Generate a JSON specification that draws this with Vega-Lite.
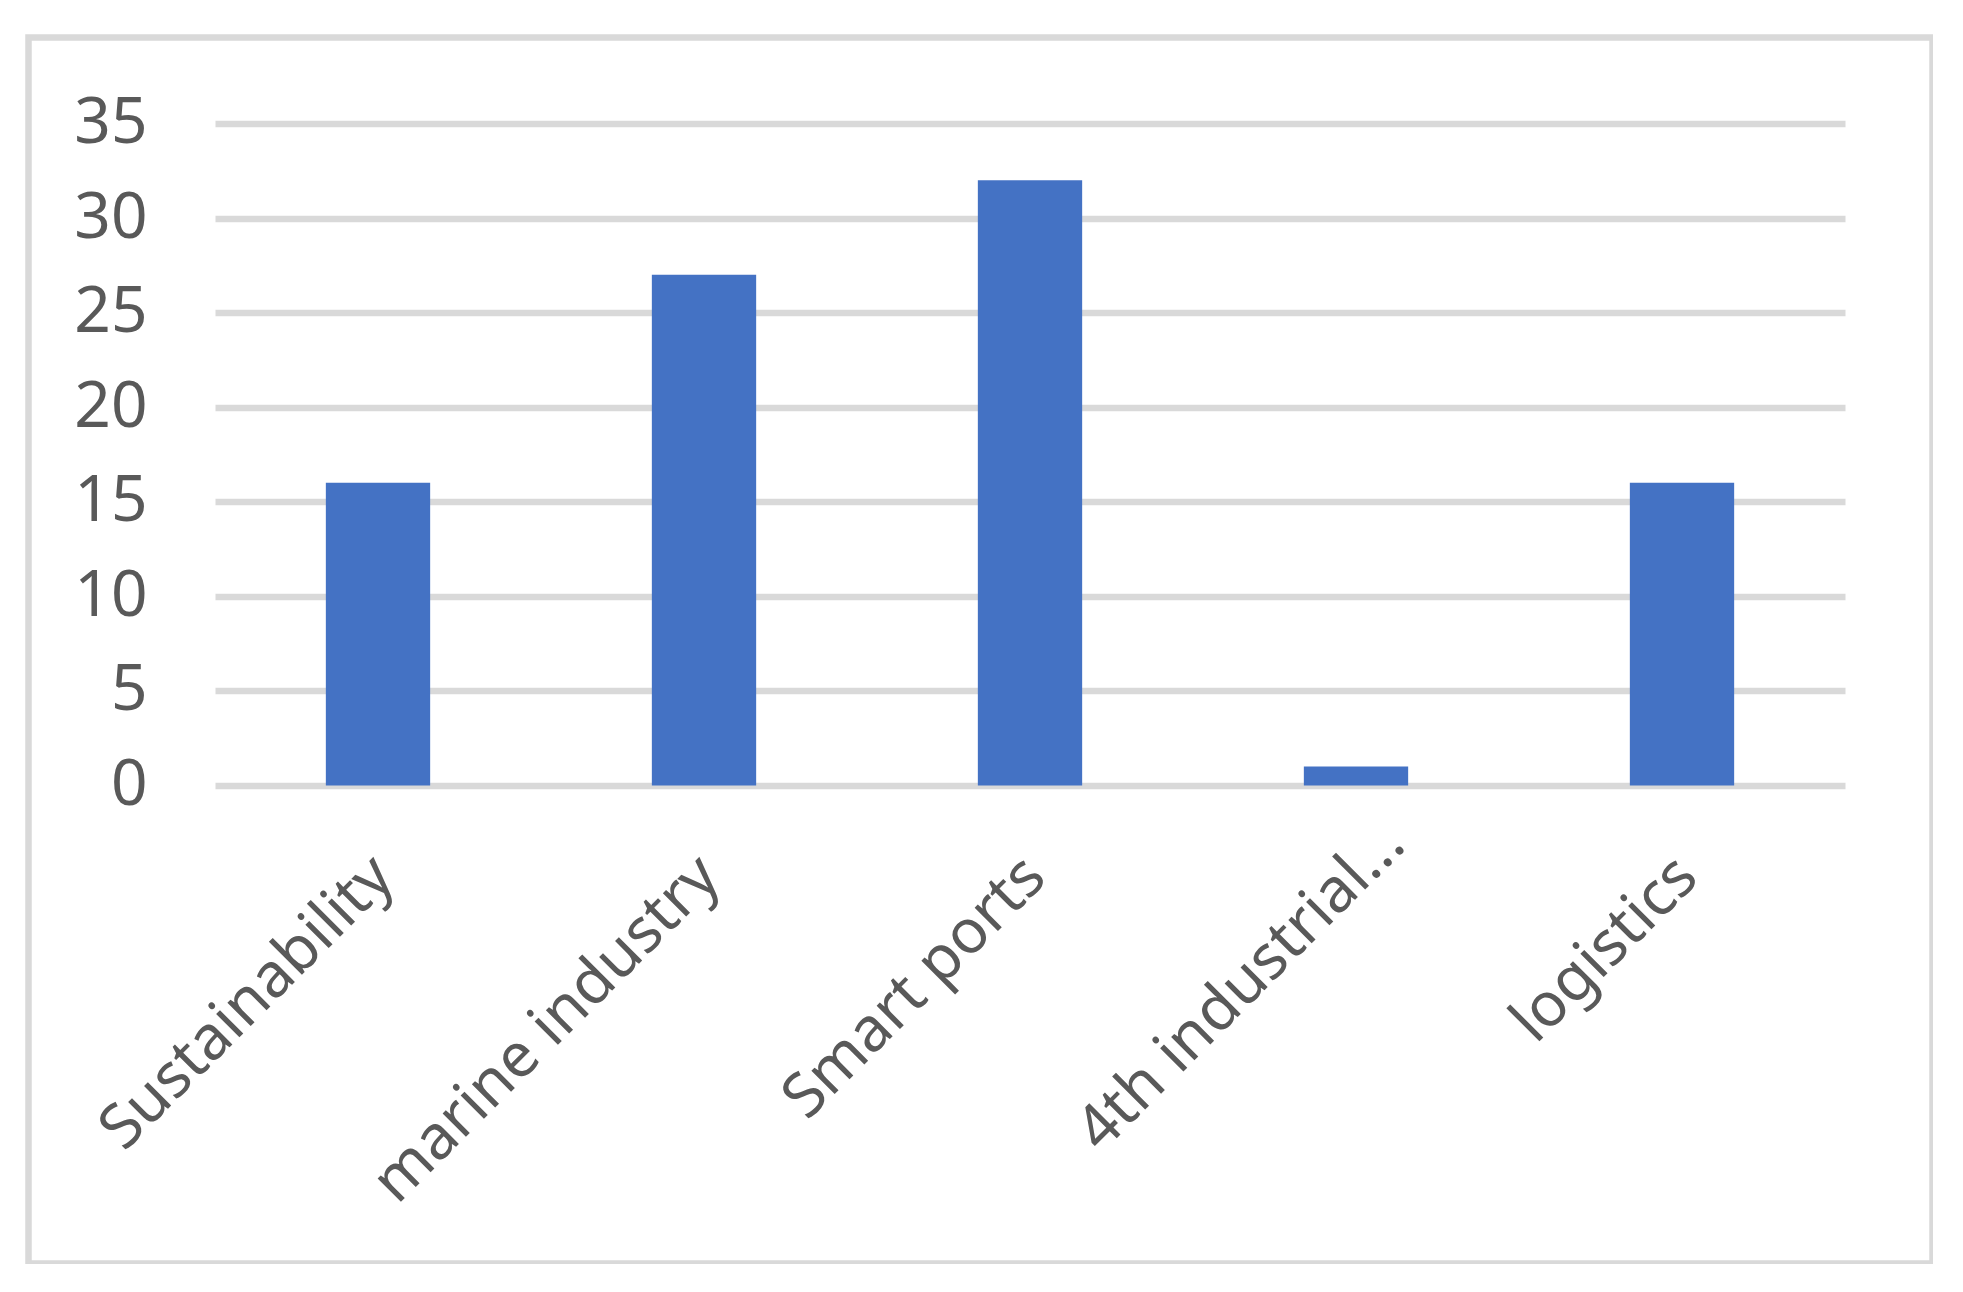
{
  "$schema": "https://vega.github.io/schema/vega-lite/v6.json",
  "width": 1904,
  "height": 1226,
  "autosize": {"type": "none"},
  "padding": {"left": 28.5, "top": 37.5, "right": 0, "bottom": 0},
  "background": "white",
  "data": {
    "values": [
      {"topic": "Sustainability", "count": 16},
      {"topic": "marine industry", "count": 27},
      {"topic": "Smart ports", "count": 32},
      {"topic": "4th industrial...", "count": 1},
      {"topic": "logistics", "count": 16}
    ]
  },
  "mark": {"type": "bar", "color": "#4472c4"},
  "encoding": {
    "x": {
      "field": "topic",
      "type": "nominal",
      "sort": null,
      "scale": {"range": [186.5, 1816.5], "paddingInner": 0.68, "paddingOuter": 0.34},
      "axis": {
        "title": null,
        "labelAngle": -45,
        "labelPadding": {"condition": {"test": "datum.value === '4th industrial...'", "value": -451.5}, "value": -418.5},
        "labelOffset": {"condition": {"test": "datum.value === '4th industrial...'", "value": 17}, "value": -16},
        "domain": false,
        "ticks": false,
        "grid": false,
        "labelFontSize": 61.5,
        "labelColor": "#595959",
        "labelFont": "Noto Sans",
        "labelLimit": 0
      }
    },
    "y": {
      "field": "count",
      "type": "quantitative",
      "scale": {"domain": [0, 35], "range": [748, 86], "nice": false, "zero": true},
      "axis": {
        "title": null,
        "values": [0, 5, 10, 15, 20, 25, 30, 35],
        "labelPadding": -118.5,
        "domain": false,
        "ticks": false,
        "grid": true,
        "gridColor": "#d9d9d9",
        "gridWidth": 6.5,
        "gridOpacity": 1,
        "labelFontSize": 64,
        "labelColor": "#595959",
        "labelFont": "Noto Sans"
      }
    }
  },
  "config": {"view": {"stroke": "#d9d9d9", "strokeWidth": 6.5}}
}
